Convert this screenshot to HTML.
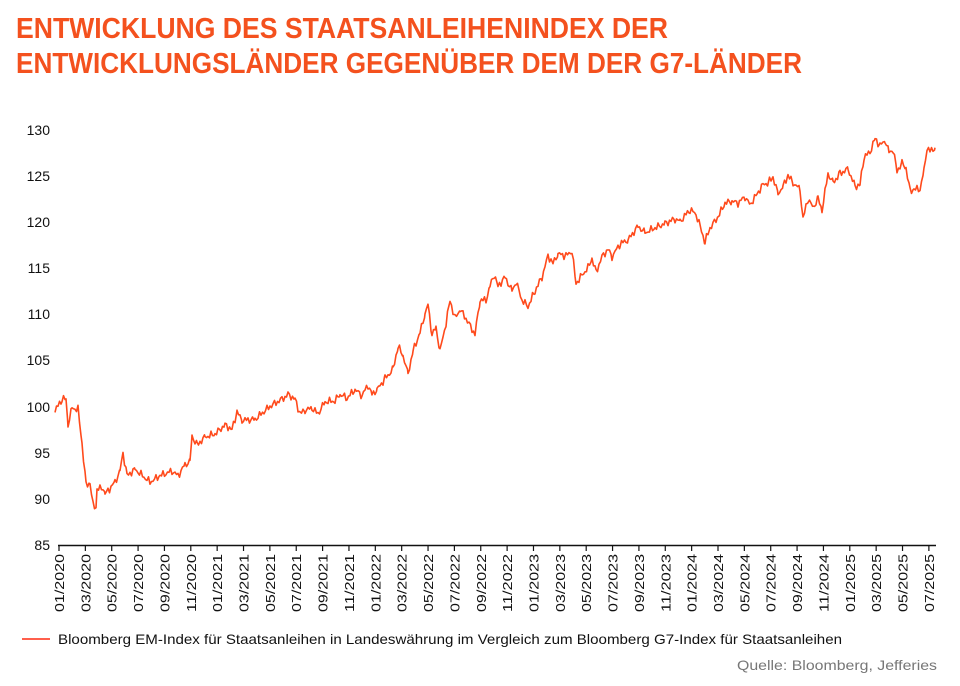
<!DOCTYPE html>
<html><head><meta charset="utf-8"><style>
html,body{margin:0;padding:0;background:#fff;}
svg{display:block;}
</style></head><body>
<svg width="960" height="686" viewBox="0 0 960 686" xmlns="http://www.w3.org/2000/svg" font-family="Liberation Sans, Arial, sans-serif">
<text x="16" y="38" font-size="29" font-weight="bold" fill="#f4511e" textLength="652" lengthAdjust="spacingAndGlyphs">ENTWICKLUNG DES STAATSANLEIHENINDEX DER</text>
<text x="16" y="73" font-size="29" font-weight="bold" fill="#f4511e" textLength="786" lengthAdjust="spacingAndGlyphs">ENTWICKLUNGSLÄNDER GEGENÜBER DEM DER G7-LÄNDER</text>
<g font-size="14" fill="#111" text-anchor="end">
<text x="50" y="135">130</text><text x="50" y="181">125</text><text x="50" y="227">120</text><text x="50" y="273">115</text><text x="50" y="319">110</text><text x="50" y="365">105</text><text x="50" y="412">100</text><text x="50" y="458">95</text><text x="50" y="504">90</text><text x="50" y="550">85</text>
</g>
<line x1="58" y1="545.5" x2="936" y2="545.5" stroke="#111" stroke-width="1.5"/>
<g id="xt" stroke="#111" stroke-width="1.2"></g>
<g id="xl" font-size="13" fill="#111"></g>
<polyline id="ln" fill="none" stroke="#ff4a1c" stroke-width="1.6" stroke-linejoin="round" points=""/>
<line x1="22" y1="639" x2="50" y2="639" stroke="#ff2a10" stroke-width="1.5"/>
<text x="58" y="644" font-size="14" fill="#111" textLength="784" lengthAdjust="spacingAndGlyphs">Bloomberg EM-Index für Staatsanleihen in Landeswährung im Vergleich zum Bloomberg G7-Index für Staatsanleihen</text>
<text x="937" y="670" font-size="14" fill="#777" text-anchor="end" textLength="200" lengthAdjust="spacingAndGlyphs">Quelle: Bloomberg, Jefferies</text>
</svg>
<script>
var ns="http://www.w3.org/2000/svg";
var xt=document.getElementById("xt"),xl=document.getElementById("xl");
for(var i=0;i<=33;i++){var x=59+i*26.36;var l=document.createElementNS(ns,"line");l.setAttribute("x1",x);l.setAttribute("x2",x);l.setAttribute("y1",545);l.setAttribute("y2",551);xt.appendChild(l);
var m=(i%6)*2+1,yr=2020+Math.floor(i/6);var t=document.createElementNS(ns,"text");t.textContent=(m<10?"0":"")+m+"/"+yr;t.setAttribute("transform","translate("+(x+5)+",612) rotate(-90)");t.setAttribute("textLength","58");t.setAttribute("lengthAdjust","spacingAndGlyphs");xl.appendChild(t);}
var d=[55,99.5,62,100.8,66,100.8,68,98,72,99.8,78,99.7,82,96,86,91.5,90,91.7,93,89.3,96,89.1,97,91,103,91.2,105,90.5,115,91.8,120,93,123,95,127,92.5,135,93.2,150,91.8,160,92.5,172,93,178,92.5,185,93.7,190,94,192,96.8,197,95.8,205,96.7,215,97,225,98,232,97.5,237,99.4,242,98.5,255,98.6,270,100,285,101,288,101.3,295,100.8,300,99.2,305,99.6,312,99.8,318,99.2,325,100.5,335,100.6,340,101.3,347,100.9,355,101.8,362,101.2,368,102.3,372,101.3,377,101.8,385,103,393,104,398,106.5,403,105.5,408,103.5,413,106,420,108,425,110,428,111,432,107.8,436,108.5,440,106,446,109,450,111.5,455,109.5,460,110.5,466,109.5,475,107.8,480,111.5,486,111.5,490,113,494,114.3,498,113,505,114,512,112.5,516,113.5,522,111.5,528,110.8,535,112.5,542,114,548,116.3,553,115.5,558,116.5,566,116.3,572,116.8,576,113.3,582,114.2,588,115,592,116,596,114.5,602,116.2,608,117,612,116.2,620,117.6,628,118,638,119.5,645,118.8,655,119.3,665,119.8,675,120.3,680,120,690,121.3,696,120.8,700,119.5,705,117.8,710,119.3,718,120.5,725,122,732,122.2,738,122,745,122.7,750,121.8,757,123,763,124,768,124.2,773,124.8,778,123,783,123.8,788,125,793,124.2,800,123.5,803,120.3,808,122.5,813,121.5,818,122.5,822,121.2,828,125.2,833,124.2,840,125.2,848,125.7,855,123.8,860,124,864,127,870,127.5,875,129,880,128.2,885,128.8,889,127.5,893,127.8,897,125.5,902,126.3,906,125.8,910,123.3,914,123.5,920,123.5,924,125.5,927,128,930,127.6,935,128];
var p=[],s=7;
for(var k=0;k<d.length-2;k+=2){var x0=d[k],y0=d[k+1],x1=d[k+2],y1=d[k+3];for(var x=x0;x<x1;x+=1.5){var f=(x-x0)/(x1-x0);var v=y0+(y1-y0)*f+Math.sin(x*1.7+s)*0.25+Math.sin(x*0.9)*0.2;p.push(x.toFixed(1)+","+(545-(v-85)*9.24).toFixed(1));}}
p.push("935,"+(545-43*9.24).toFixed(1));
document.getElementById("ln").setAttribute("points",p.join(" "));
</script>
</body></html>
